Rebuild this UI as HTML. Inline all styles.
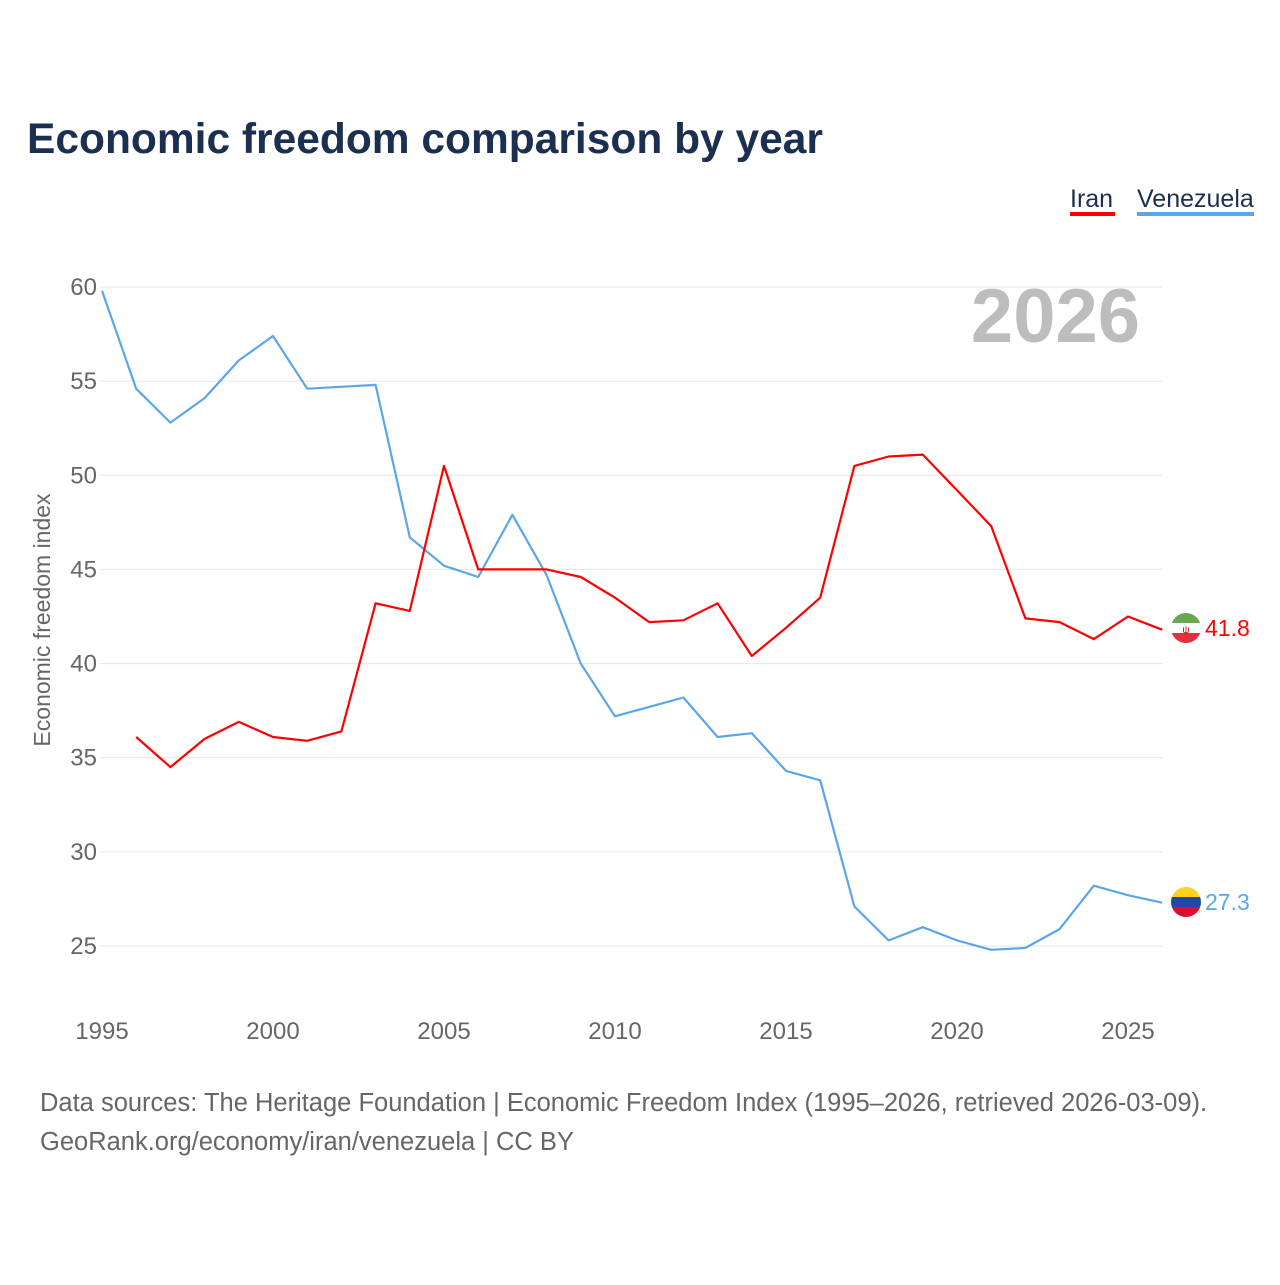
<!DOCTYPE html>
<html><head><meta charset="utf-8"><style>
body{margin:0;background:#fff;font-family:"Liberation Sans",sans-serif;}
svg text{font-family:"Liberation Sans",sans-serif;}
</style></head><body>
<svg id="chart" width="1280" height="1280">
<text x="27" y="153" font-size="42.5" font-weight="bold" fill="#1b2f50">Economic freedom comparison by year</text>
<g><text x="1070" y="207" font-size="25" fill="#1b2f50">Iran</text><rect x="1070" y="212" width="45" height="4" fill="#ff0000"/></g>
<g><text x="1137" y="207" font-size="25" fill="#1b2f50">Venezuela</text><rect x="1137" y="212" width="117" height="4" fill="#5ba6ea"/></g>
<text x="1140" y="342" text-anchor="end" font-size="76" font-weight="bold" fill="#bdbdbd">2026</text>
<text transform="translate(50,620) rotate(-90)" text-anchor="middle" font-size="23" fill="#666">Economic freedom index</text>
<g id="grid"></g><g id="lines"></g>
<g>
<clipPath id="c1"><circle cx="1186" cy="628" r="15"/></clipPath>
<g clip-path="url(#c1)"><rect x="1170" y="612" width="32" height="11" fill="#6aa84f"/><rect x="1170" y="623" width="32" height="10" fill="#fff"/><rect x="1170" y="633" width="32" height="11" fill="#e03040"/><text x="1186" y="633" font-size="10" text-anchor="middle" fill="#d00">ψ</text></g></g>
<g>
<clipPath id="c2"><circle cx="1186" cy="902" r="15"/></clipPath>
<g clip-path="url(#c2)"><rect x="1170" y="886" width="32" height="11" fill="#ffd21f"/><rect x="1170" y="897" width="32" height="10" fill="#1f48a8"/><rect x="1170" y="907" width="32" height="11" fill="#d8102c"/></g></g>
<text x="1205" y="636" font-size="23" fill="#ff0000">41.8</text>
<text x="1205" y="910" font-size="23" fill="#5ba6ea">27.3</text>
<text x="40" y="1111" font-size="25.5" fill="#666">Data sources: The Heritage Foundation | Economic Freedom Index (1995–2026, retrieved 2026-03-09).</text>
<text x="40" y="1150" font-size="25.5" fill="#666">GeoRank.org/economy/iran/venezuela | CC BY</text>
</svg>
<script>
const years=[1995,1996,1997,1998,1999,2000,2001,2002,2003,2004,2005,2006,2007,2008,2009,2010,2011,2012,2013,2014,2015,2016,2017,2018,2019,2020,2021,2022,2023,2024,2025,2026];
const iran=[null,36.1,34.5,36.0,36.9,36.1,35.9,36.4,43.2,42.8,50.5,45.0,45.0,45.0,44.6,43.5,42.2,42.3,43.2,40.4,41.9,43.5,50.5,51.0,51.1,49.2,47.3,42.4,42.2,41.3,42.5,41.8];
const venezuela=[59.8,54.6,52.8,54.1,56.1,57.4,54.6,54.7,54.8,46.7,45.2,44.6,47.9,44.7,40.0,37.2,37.7,38.2,36.1,36.3,34.3,33.8,27.1,25.3,26.0,25.3,24.8,24.9,25.9,28.2,27.7,27.3];
const yTicks=[25,30,35,40,45,50,55,60];
const xTicks=[1995,2000,2005,2010,2015,2020,2025];
const NS="http://www.w3.org/2000/svg";
const xs=y=>102+(y-1995)*(1026/30);
const ys=v=>287+(60-v)*(659/35);
const grid=document.getElementById('grid'),lines=document.getElementById('lines');
function mk(t,a,p){const e=document.createElementNS(NS,t);for(const k in a)e.setAttribute(k,a[k]);p.appendChild(e);return e;}
yTicks.forEach(v=>{
const l=mk('line',{x1:100,x2:1162,y1:ys(v),y2:ys(v),stroke:'#e6e6e6','stroke-width':1},grid);


const t=mk('text',{x:97,y:ys(v)+8,'text-anchor':'end','font-size':24,fill:'#666'},grid);t.textContent=v;


});
xTicks.forEach(y=>{
const t=mk('text',{x:xs(y),y:1039,'text-anchor':'middle','font-size':24,fill:'#666'},grid);t.textContent=y;


});
function line(vals,color,name){
const pts=[];vals.forEach((v,i)=>{if(v!=null)pts.push(xs(years[i]).toFixed(1)+','+ys(v).toFixed(1));});
const p=mk('polyline',{points:pts.join(' '),fill:'none',stroke:color,'stroke-width':2.2,'stroke-linejoin':'round'},lines);


}
line(venezuela,'#5ba6ea','venezuela-line');
line(iran,'#ff0000','iran-line');
</script>
</body></html>
